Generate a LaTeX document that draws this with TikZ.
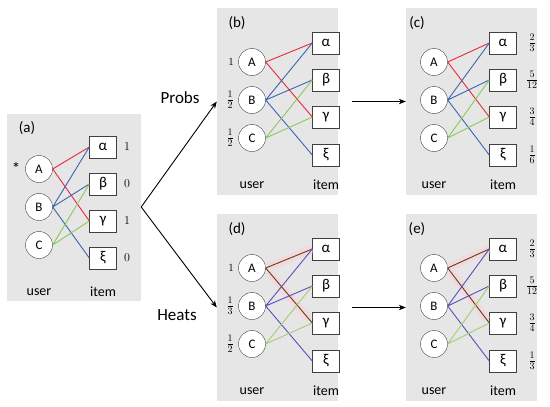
\documentclass[tikz,border=0pt]{standalone}
\usepackage{fontspec}
\setmainfont{Carlito}
\usetikzlibrary{arrows.meta}
\usepackage{xcolor}
\definecolor{pgray}{RGB}{230,230,230}
\definecolor{cred}{RGB}{232,40,60}
\definecolor{cblue}{RGB}{60,100,180}
\definecolor{cgreen}{RGB}{140,200,90}
\definecolor{hbrown}{RGB}{105,60,20}
\definecolor{hblue}{RGB}{85,80,190}
\definecolor{hgreen}{RGB}{165,205,115}
\definecolor{halo}{RGB}{250,205,218}

\begin{document}
\begin{tikzpicture}[x=1pt, y=-1pt,
  panel/.style={fill=pgray, inner sep=0pt, minimum height=187pt},
  user/.style={circle, draw=black!75, fill=white, minimum size=27pt,
  inner sep=0pt, font=\fontsize{13}{15}\selectfont},
  item/.style={draw=black!75, fill=white, minimum width=27pt,
  minimum height=22pt, inner sep=0pt, font=\fontsize{15}{17}\selectfont},
  tag/.style={font=\fontsize{15}{17}\selectfont},
  lab/.style={font=\fontsize{14}{16}\selectfont},
  num/.style={font=\fontsize{14}{16}\selectfont, inner sep=0pt},
  one/.style={font=\fontsize{11}{13}\selectfont, inner sep=0pt},
  pred/.style={draw=cred, line width=.9pt},
  pblu/.style={draw=cblue, line width=.9pt},
  pgrn/.style={draw=cgreen, line width=.9pt},
  hred/.style={draw=hbrown, line width=.9pt},
  hblu/.style={draw=hblue, line width=.9pt},
  hgrn/.style={draw=hgreen, line width=.9pt},
  glow/.style={draw=halo, line width=8pt, opacity=.5, shorten <=4pt, shorten >=4pt},
  arr/.style={-{Stealth[length=7pt, width=5.5pt]}, line width=.9pt}
]
\useasboundingbox (0,0) rectangle (550,407);

% panels
\node[panel, minimum width=134pt] (pa) at (74, 207)   {};
\node[panel, minimum width=121pt] (pb) at (277.5, 101.5) {};
\node[panel, minimum width=131pt] (pc) at (471.5, 101.5) {};
\node[panel, minimum width=121pt] (pd) at (277.5, 307.5) {};
\node[panel, minimum width=131pt] (pe) at (471.5, 307.5) {};

% (a)
\node[tag] (ta) at (27, 128) {(a)};
\node[user] (aA) at (39, 169) {A};
\node[user] (aB) at (39, 207) {B};
\node[user] (aC) at (39, 245) {C};
\node[item] (aal) at (103, 147) {α};
\node[item] (abe) at (103, 184) {β};
\node[item] (aga) at (103, 221) {γ};
\node[item] (axi) at (103, 258) {ξ};
\node[lab] (au) at (39, 292) {user};
\node[lab] (ai) at (103, 292) {item};
\node[font=\fontsize{17}{19}\selectfont] (star) at (16, 168) {*};
\node[one, font=\fontsize{12}{14}\selectfont] (n1) at (127, 147) {$1$};
\node[one, font=\fontsize{12}{14}\selectfont] (n2) at (127, 184) {$0$};
\node[one, font=\fontsize{12}{14}\selectfont] (n3) at (127, 221) {$1$};
\node[one, font=\fontsize{12}{14}\selectfont] (n4) at (127, 258) {$0$};
\draw[pred] (aA.east) -- (aal.west) (aA.east) -- (aga.west);
\draw[pblu] (aB.east) -- (aal.west) (aB.east) -- (abe.west) (aB.east) -- (axi.west);
\draw[pgrn] (aC.east) -- (abe.west) (aC.east) -- (aga.west);

% (b)
\node[tag] (tb) at (237, 23) {(b)};
\node[user] (bA) at (252, 62) {A};
\node[user] (bB) at (252, 100) {B};
\node[user] (bC) at (252, 138) {C};
\node[item] (bal) at (326, 43) {α};
\node[item] (bbe) at (326, 80) {β};
\node[item] (bga) at (326, 117) {γ};
\node[item] (bxi) at (326, 155) {ξ};
\node[lab] (bu) at (252, 185) {user};
\node[lab] (bi) at (326, 185) {item};
\node[one] (bf1) at (231, 62) {$1$};
\node[num] (bf2) at (230, 100) {$\frac{1}{2}$};
\node[num] (bf3) at (230, 138) {$\frac{1}{2}$};
\draw[pred] (bA.east) -- (bal.west) (bA.east) -- (bga.west);
\draw[pblu] (bB.east) -- (bal.west) (bB.east) -- (bbe.west) (bB.east) -- (bxi.west);
\draw[pgrn] (bC.east) -- (bbe.west) (bC.east) -- (bga.west);

% (c)
\node[tag] (tc) at (417, 23) {(c)};
\node[user] (cA) at (434, 62) {A};
\node[user] (cB) at (434, 100) {B};
\node[user] (cC) at (434, 138) {C};
\node[item] (cal) at (503, 43) {α};
\node[item] (cbe) at (503, 80) {β};
\node[item] (cga) at (503, 117) {γ};
\node[item] (cxi) at (503, 155) {ξ};
\node[lab] (cu) at (434, 185) {user};
\node[lab] (ci) at (503, 185) {item};
\node[num] (cf1) at (532, 43) {$\frac{2}{3}$};
\node[num] (cf2) at (532, 80) {$\frac{5}{12}$};
\node[num] (cf3) at (532, 117) {$\frac{3}{4}$};
\node[num] (cf4) at (532, 155) {$\frac{1}{6}$};
\draw[pred] (cA.east) -- (cal.west) (cA.east) -- (cga.west);
\draw[pblu] (cB.east) -- (cal.west) (cB.east) -- (cbe.west) (cB.east) -- (cxi.west);
\draw[pgrn] (cC.east) -- (cbe.west) (cC.east) -- (cga.west);

% (d)
\node[tag] (td) at (237, 229) {(d)};
\node[user] (dA) at (252, 268) {A};
\node[user] (dB) at (252, 306) {B};
\node[user] (dC) at (252, 344) {C};
\node[item] (dal) at (326, 249) {α};
\node[item] (dbe) at (326, 286) {β};
\node[item] (dga) at (326, 323) {γ};
\node[item] (dxi) at (326, 361) {ξ};
\node[lab] (du) at (252, 391) {user};
\node[lab] (di) at (326, 391) {item};
\node[one] (df1) at (231, 268) {$1$};
\node[num] (df2) at (230, 306) {$\frac{1}{3}$};
\node[num] (df3) at (230, 344) {$\frac{1}{2}$};
\draw[glow] (dA.east) -- (dal.west) (dA.east) -- (dga.west);
\draw[hred] (dA.east) -- (dal.west) (dA.east) -- (dga.west);
\draw[hblu] (dB.east) -- (dal.west) (dB.east) -- (dbe.west) (dB.east) -- (dxi.west);
\draw[hgrn] (dC.east) -- (dbe.west) (dC.east) -- (dga.west);

% (e)
\node[tag] (te) at (417, 229) {(e)};
\node[user] (eA) at (434, 268) {A};
\node[user] (eB) at (434, 306) {B};
\node[user] (eC) at (434, 344) {C};
\node[item] (eal) at (503, 249) {α};
\node[item] (ebe) at (503, 286) {β};
\node[item] (ega) at (503, 323) {γ};
\node[item] (exi) at (503, 361) {ξ};
\node[lab] (eu) at (434, 391) {user};
\node[lab] (ei) at (503, 391) {item};
\node[num] (ef1) at (532, 249) {$\frac{2}{3}$};
\node[num] (ef2) at (532, 286) {$\frac{5}{12}$};
\node[num] (ef3) at (532, 323) {$\frac{3}{4}$};
\node[num] (ef4) at (532, 361) {$\frac{1}{3}$};
\draw[glow] (eA.east) -- (eal.west) (eA.east) -- (ega.west);
\draw[hred] (eA.east) -- (eal.west) (eA.east) -- (ega.west);
\draw[hblu] (eB.east) -- (eal.west) (eB.east) -- (ebe.west) (eB.east) -- (exi.west);
\draw[hgrn] (eC.east) -- (ebe.west) (eC.east) -- (ega.west);

% arrows
\node[font=\fontsize{17}{19}\selectfont] (probs) at (180, 98) {Probs};
\node[font=\fontsize{17}{19}\selectfont] (heats) at (177, 315) {Heats};
\draw[arr] (pa.east) -- (pb.west);
\draw[arr] (pa.east) -- (pd.west);
\draw[arr] ([xshift=14pt]pb.east) -- (pc.west);
\draw[arr] ([xshift=14pt]pd.east) -- (pe.west);
\end{tikzpicture}
\end{document}
